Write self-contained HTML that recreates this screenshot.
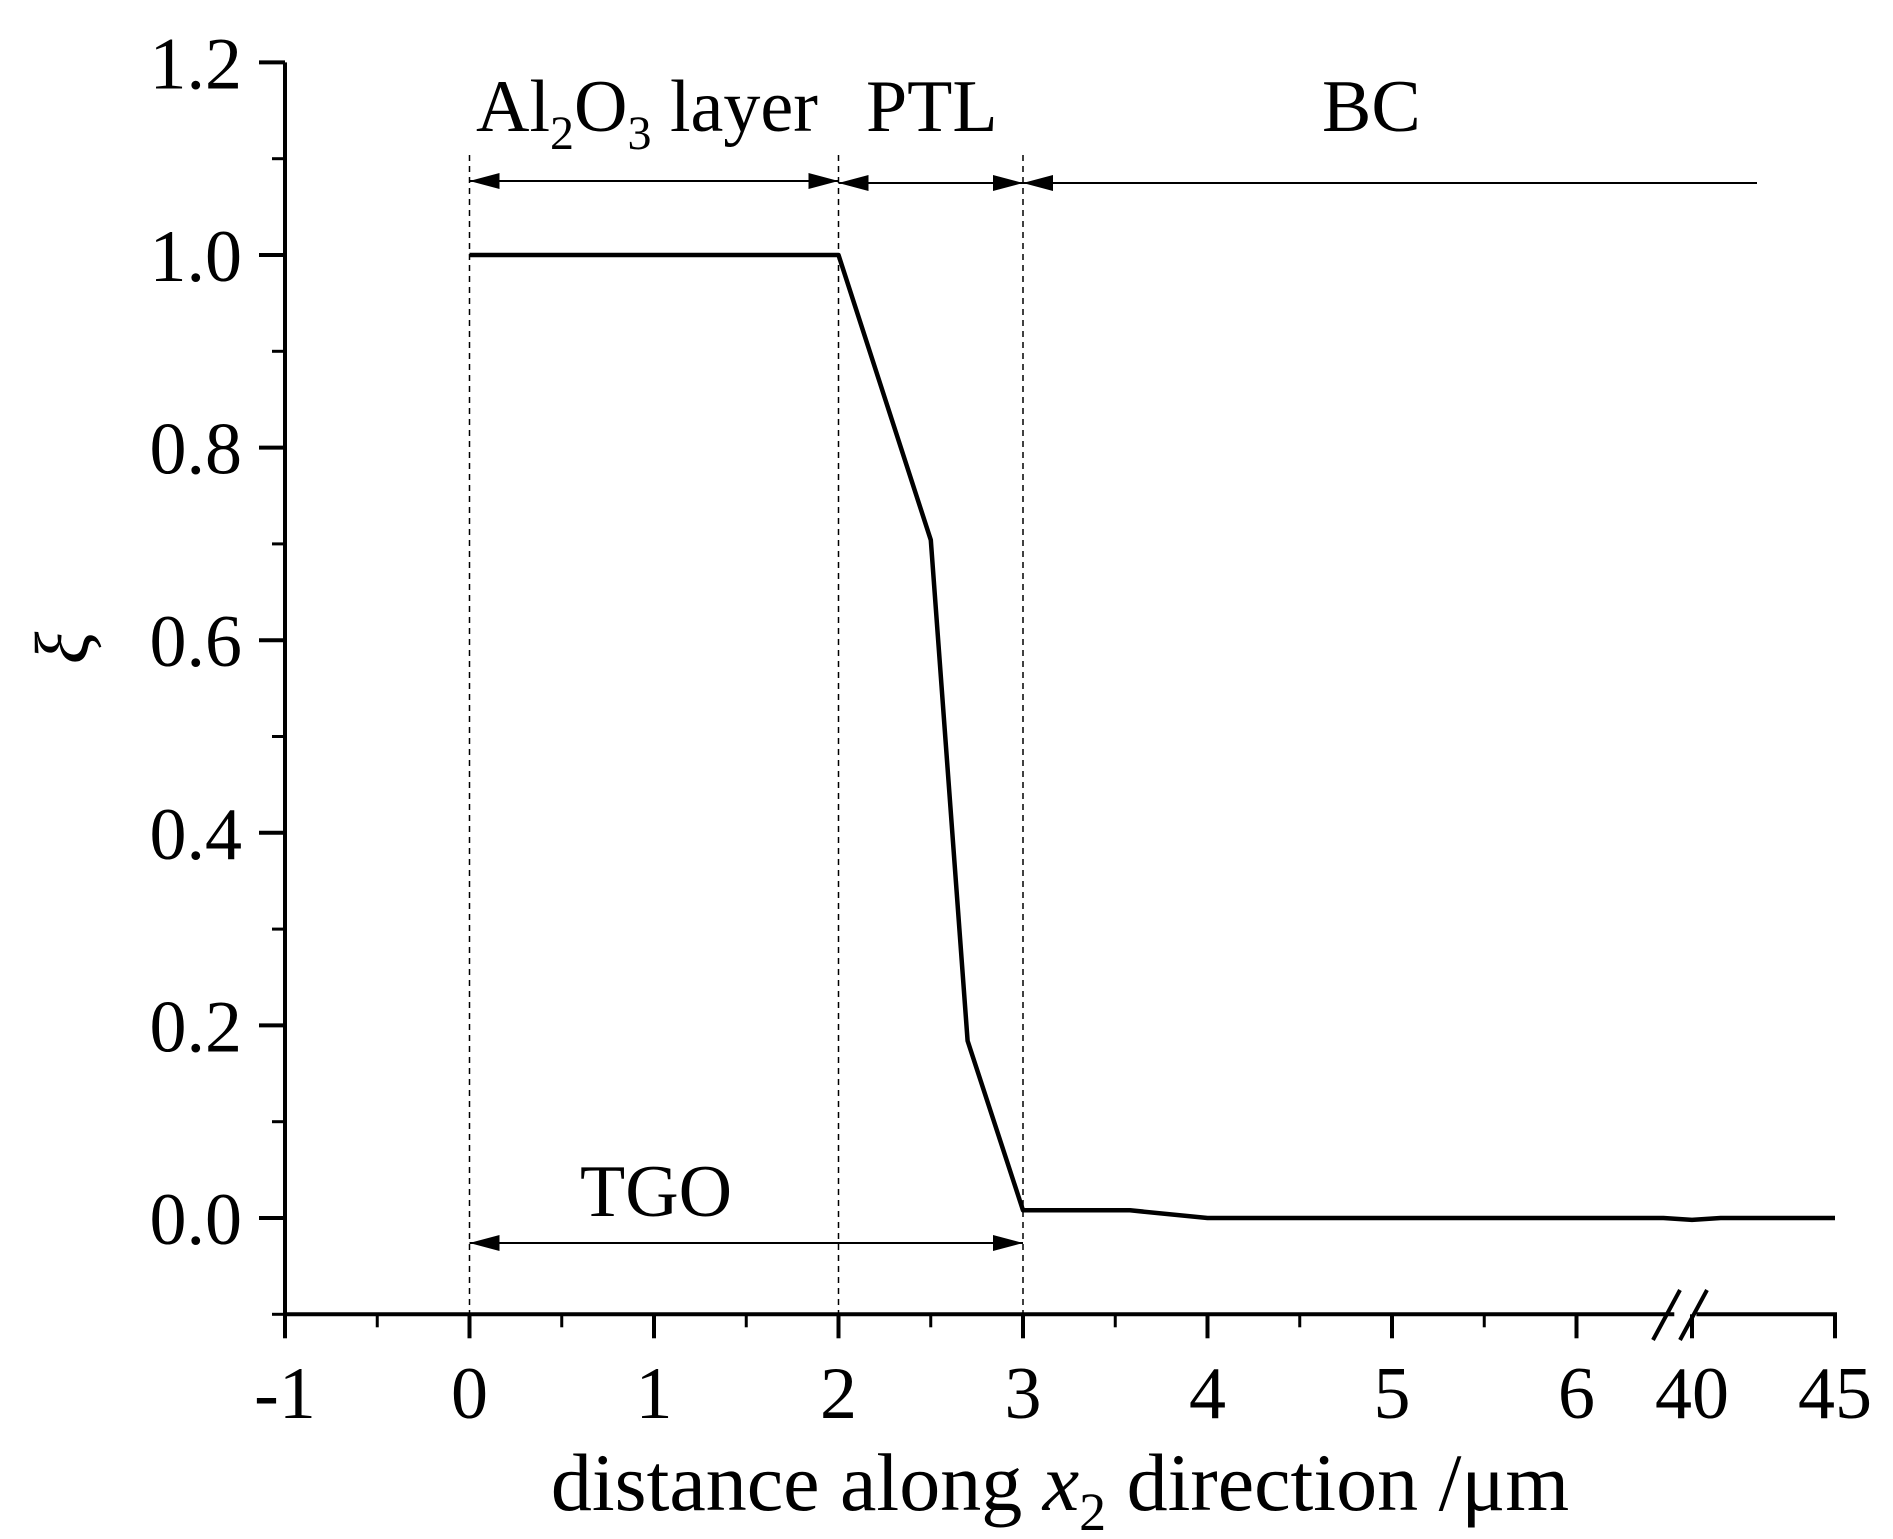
<!DOCTYPE html>
<html><head><meta charset="utf-8">
<style>
html,body{margin:0;padding:0;background:#fff;}
svg{display:block;}
text{font-family:"Liberation Serif",serif;fill:#000;}
</style></head>
<body>
<svg id="chart" width="1893" height="1539" viewBox="0 0 1893 1539" xmlns="http://www.w3.org/2000/svg">
<g id="axes"></g>
<g id="annot"></g>
<g id="series"></g>
</svg>
<script>
const xTicks = [-1,0,1,2,3,4,5,6,40,45];
const xTickLabels = ["-1","0","1","2","3","4","5","6","40","45"];
const yTicks = [0,0.2,0.4,0.6,0.8,1.0,1.2];
const yTickLabels = ["0.0","0.2","0.4","0.6","0.8","1.0","1.2"];
const xData = [0,2,2.5,2.7,3,3.58,4,5,6,39,40,41,45];
const yData = [1.0,1.0,0.704,0.184,0.008,0.008,0.0,0.0,0.0,0.0,-0.002,0.0,0.0];
const boundaries = [0,2,3];

const NS="http://www.w3.org/2000/svg";
const X0=285, XU=184.5, XR0=1692, XRU=28.6;
function xs(v){ if(v<=6.8) return X0+(v+1)*XU; return XR0+(v-40)*XRU; }
const Y0=1218, YU=963;
function ys(v){ return Y0-v*YU; }
function mk(tag,attrs,parent){const e=document.createElementNS(NS,tag);for(const k in attrs)e.setAttribute(k,attrs[k]);parent.appendChild(e);return e;}
const axes=document.getElementById('axes'), annot=document.getElementById('annot'), series=document.getElementById('series');
const yTop=ys(1.2), yBot=ys(-0.1);
let yl=mk('line',{x1:X0,y1:yTop,x2:X0,y2:yBot,stroke:'#000','stroke-width':4},axes);


let xl1=mk('path',{d:`M${X0} ${yBot}H${xs(6.53)}M${xs(6.65)} ${yBot}H${xs(45)}V${yBot+22}`,stroke:'#000','stroke-width':4,fill:'none'},axes);


let brk=mk('path',{d:`M1653 1340L1680 1290M1680 1340L1707 1290`,stroke:'#000','stroke-width':4,fill:'none'},axes);


xTicks.forEach((v,i)=>{
  const x=xs(v);
  const t=mk('line',{x1:x,y1:yBot,x2:x,y2:yBot+24,stroke:'#000','stroke-width':4},axes);
  
  
  const l=mk('text',{x:x,y:1418,'font-size':74,'text-anchor':'middle'},axes);
  l.textContent=xTickLabels[i];
  
  
});
for(let v=-0.5; v<6; v+=1){
  const x=xs(v);
  const t=mk('line',{x1:x,y1:yBot,x2:x,y2:yBot+13,stroke:'#000','stroke-width':3},axes);
  
  
}
yTicks.forEach((v,i)=>{
  const y=ys(v);
  const t=mk('line',{x1:X0-26,y1:y,x2:X0,y2:y,stroke:'#000','stroke-width':4},axes);
  
  
  const l=mk('text',{x:242,y:y+26,'font-size':74,'text-anchor':'end'},axes);
  l.textContent=yTickLabels[i];
  
  
});
for(let v=-0.1; v<1.2; v+=0.2){
  const y=ys(v);
  const t=mk('line',{x1:X0-13,y1:y,x2:X0,y2:y,stroke:'#000','stroke-width':3},axes);
  
  
}
let xt=mk('text',{x:1060,y:1510,'font-size':82,'text-anchor':'middle'},axes);
xt.innerHTML='distance along <tspan font-style="italic">x</tspan><tspan font-size="54" dy="20">2</tspan><tspan dy="-20"> direction /μm</tspan>';


let yt=mk('text',{x:0,y:0,'font-size':76,'text-anchor':'middle','font-style':'italic',transform:'translate(88,648) rotate(-90)'},axes);
yt.textContent='ξ';


boundaries.forEach(b=>{
  const d=mk('line',{x1:xs(b),y1:155,x2:xs(b),y2:yBot,stroke:'#000','stroke-width':1.5,'stroke-dasharray':'6,5'},annot);
  
  
});
function arrowHead(x,y,dir){
  return mk('path',{d:`M${x} ${y}L${x-dir*30} ${y-8}L${x-dir*30} ${y+8}Z`,fill:'#000'},annot);
}
function dimLine(a,b,y,name,endArrow){
  const g=mk('g',{},annot);
  
  
  mk('line',{x1:a,y1:y,x2:b,y2:y,stroke:'#000','stroke-width':2},g);
  g.appendChild(arrowHead(a,y,-1));
  if(endArrow) g.appendChild(arrowHead(b,y,1));
}
dimLine(xs(0),xs(2),181,'al2o3-dimension',true);
dimLine(xs(2),xs(3),183,'ptl-dimension',true);
dimLine(xs(3),1757,183,'bc-dimension',false);
dimLine(xs(0),xs(3),1243,'tgo-dimension',true);
function label(x,y,html,name){
  const t=mk('text',{x:x,y:y,'font-size':74},annot);
  t.innerHTML=html;
  
  
  return t;
}
label(476,131,'Al<tspan font-size="48" dy="18">2</tspan><tspan dy="-18">O</tspan><tspan font-size="48" dy="18">3</tspan><tspan dy="-18"> layer</tspan>','al2o3-label');
label(866,131,'PTL','ptl-label');
label(1322,131,'BC','bc-label');
label(580,1216,'TGO','tgo-label');
let d='';
xData.forEach((v,i)=>{ d+=(i?'L':'M')+xs(v).toFixed(1)+' '+ys(yData[i]).toFixed(1); });
const p=mk('path',{d:d,stroke:'#000','stroke-width':4.5,fill:'none','stroke-linejoin':'round'},series);


</script>
</body></html>
